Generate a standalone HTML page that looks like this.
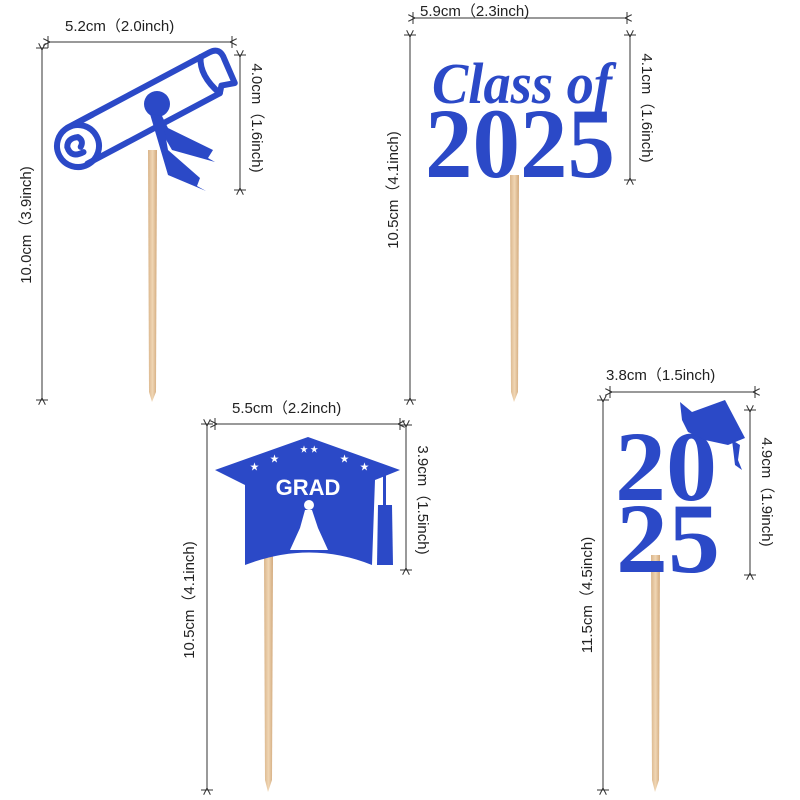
<!DOCTYPE html>
<html><head><meta charset="utf-8"><style>
html,body{margin:0;padding:0;background:#fff;}
svg{display:block;}
text{font-family:"Liberation Sans","Noto Sans CJK SC",sans-serif;font-size:15px;fill:#222;}
.dim{stroke:#333;stroke-width:1;}
.blue{fill:#2b49c7;}
.bs{stroke:#2b49c7;fill:none;stroke-width:6;stroke-linejoin:round;stroke-linecap:round;}
</style></head><body>
<svg width="800" height="800" viewBox="0 0 800 800" xmlns="http://www.w3.org/2000/svg">
<defs>
<linearGradient id="wood" x1="0" x2="1"><stop offset="0" stop-color="#d9b48a"/><stop offset="0.5" stop-color="#f0d6b4"/><stop offset="1" stop-color="#d2a97c"/></linearGradient>
<marker id="a" viewBox="0 0 10 10" refX="0" refY="5" markerWidth="7" markerHeight="7" orient="auto-start-reverse"><path d="M10,0 L0,5 L10,10" fill="none" stroke="#333" stroke-width="1.5"/></marker>
</defs>

<!-- sticks -->
<polygon points="148,150 157,150 156,392 152,402 149,392" fill="url(#wood)"/>
<polygon points="510,175 519,175 518,392 514,402 511,392" fill="url(#wood)"/>
<polygon points="264,555 273,555 272,780 268,792 265,780" fill="url(#wood)"/>
<polygon points="651,555 660,555 659,780 655,792 652,780" fill="url(#wood)"/>

<!-- ===== Topper 1: diploma ===== -->
<g class="dim">
<line x1="50" y1="42" x2="230" y2="42" marker-start="url(#a)" marker-end="url(#a)"/><line x1="48" y1="36" x2="48" y2="48"/><line x1="232" y1="36" x2="232" y2="48"/>
<line x1="42" y1="50" x2="42" y2="398" marker-start="url(#a)" marker-end="url(#a)"/><line x1="36" y1="48" x2="48" y2="48"/><line x1="36" y1="400" x2="48" y2="400"/>
<line x1="240" y1="57" x2="240" y2="188" marker-start="url(#a)" marker-end="url(#a)"/><line x1="234" y1="55" x2="246" y2="55"/><line x1="234" y1="190" x2="246" y2="190"/>
</g>
<text x="65" y="31">5.2cm（2.0inch)</text>
<text transform="translate(31,225) rotate(-90)" text-anchor="middle">10.0cm（3.9inch)</text>
<text transform="translate(252,118) rotate(90)" text-anchor="middle">4.0cm（1.6inch)</text>
<g transform="translate(78,146) rotate(-28)">
<path class="bs" d="M0,-21 L160,-21 Q172,-21 170,-8 L168,18 L155,14 L150,20 L0,20"/>
<path class="bs" d="M150,-21 Q140,-5 150,20"/>
<circle cx="0" cy="0" r="21" class="bs"/>
<path class="bs" stroke-width="5" d="M2,8 Q-12,8 -10,-4 Q-6,-12 4,-8 Q8,-2 2,2"/>
<rect x="-2" y="-24" width="30" height="6" class="blue"/>
</g>
<g>
<circle cx="157" cy="104" r="13" class="blue"/>
<path class="blue" d="M150,112 L160,112 L168,128 L213,150 L208,158 L215,162 L172,150 Z"/>
<path class="blue" d="M150,114 L162,116 L168,150 L200,178 L197,186 L206,191 L168,175 Z"/>
</g>

<!-- ===== Topper 2: Class of 2025 ===== -->
<g class="dim">
<line x1="415" y1="18" x2="625" y2="18" marker-start="url(#a)" marker-end="url(#a)"/><line x1="413" y1="12" x2="413" y2="24"/><line x1="627" y1="12" x2="627" y2="24"/>
<line x1="410" y1="37" x2="410" y2="398" marker-start="url(#a)" marker-end="url(#a)"/><line x1="404" y1="35" x2="416" y2="35"/><line x1="404" y1="400" x2="416" y2="400"/>
<line x1="630" y1="37" x2="630" y2="178" marker-start="url(#a)" marker-end="url(#a)"/><line x1="624" y1="35" x2="636" y2="35"/><line x1="624" y1="180" x2="636" y2="180"/>
</g>
<text x="420" y="16">5.9cm（2.3inch)</text>
<text transform="translate(398,190) rotate(-90)" text-anchor="middle">10.5cm（4.1inch)</text>
<text transform="translate(642,108) rotate(90)" text-anchor="middle">4.1cm（1.6inch)</text>
<text x="522" y="103" text-anchor="middle" style="font-family:'Liberation Serif',serif;font-style:italic;font-weight:bold;font-size:58px;fill:#2b49c7" textLength="180" lengthAdjust="spacingAndGlyphs">Class of</text>
<text x="520" y="177" text-anchor="middle" style="font-family:'Liberation Serif',serif;font-weight:bold;font-size:100px;fill:#2b49c7" textLength="190" lengthAdjust="spacingAndGlyphs">2025</text>

<!-- ===== Topper 3: GRAD cap ===== -->
<g class="dim">
<line x1="217" y1="424" x2="398" y2="424" marker-start="url(#a)" marker-end="url(#a)"/><line x1="215" y1="418" x2="215" y2="430"/><line x1="400" y1="418" x2="400" y2="430"/>
<line x1="207" y1="426" x2="207" y2="788" marker-start="url(#a)" marker-end="url(#a)"/><line x1="201" y1="424" x2="213" y2="424"/><line x1="201" y1="790" x2="213" y2="790"/>
<line x1="406" y1="427" x2="406" y2="568" marker-start="url(#a)" marker-end="url(#a)"/><line x1="400" y1="425" x2="412" y2="425"/><line x1="400" y1="570" x2="412" y2="570"/>
</g>
<text x="232" y="413">5.5cm（2.2inch)</text>
<text transform="translate(194,600) rotate(-90)" text-anchor="middle">10.5cm（4.1inch)</text>
<text transform="translate(418,500) rotate(90)" text-anchor="middle">3.9cm（1.5inch)</text>
<g>
<path class="blue" d="M215,470 L308,437 L400,470 L375,480 L372,565 Q310,540 245,565 L245,485 Z"/>
<text x="308" y="495" text-anchor="middle" style="font-weight:bold;font-size:22px;fill:#fff">GRAD</text>
<path d="M290,550 L300,528 L305,510 L312,510 L318,528 L328,550 Z" fill="#fff"/>
<circle cx="309" cy="505" r="5" fill="#fff"/>
<text x="250" y="470" style="fill:#fff;font-size:9px">★</text><text x="270" y="462" style="fill:#fff;font-size:9px">★</text><text x="340" y="462" style="fill:#fff;font-size:9px">★</text><text x="360" y="470" style="fill:#fff;font-size:9px">★</text><text x="300" y="452" style="fill:#fff;font-size:8px">★ ★</text>
<rect x="383" y="475" width="3" height="30" class="blue"/>
<path class="blue" d="M378,505 L392,505 L393,565 L377,565 Z"/>
</g>

<!-- ===== Topper 4: 20 25 ===== -->
<g class="dim">
<line x1="612" y1="392" x2="753" y2="392" marker-start="url(#a)" marker-end="url(#a)"/><line x1="610" y1="386" x2="610" y2="398"/><line x1="755" y1="386" x2="755" y2="398"/>
<line x1="603" y1="402" x2="603" y2="788" marker-start="url(#a)" marker-end="url(#a)"/><line x1="597" y1="400" x2="609" y2="400"/><line x1="597" y1="790" x2="609" y2="790"/>
<line x1="750" y1="412" x2="750" y2="573" marker-start="url(#a)" marker-end="url(#a)"/><line x1="744" y1="410" x2="756" y2="410"/><line x1="744" y1="575" x2="756" y2="575"/>
</g>
<text x="606" y="380">3.8cm（1.5inch)</text>
<text transform="translate(592,595) rotate(-90)" text-anchor="middle">11.5cm（4.5inch)</text>
<text transform="translate(762,492) rotate(90)" text-anchor="middle">4.9cm（1.9inch)</text>
<text x="666" y="500" text-anchor="middle" style="font-family:'Liberation Serif',serif;font-weight:bold;font-size:100px;fill:#2b49c7" textLength="102" lengthAdjust="spacingAndGlyphs">20</text>
<text x="668" y="572" text-anchor="middle" style="font-family:'Liberation Serif',serif;font-weight:bold;font-size:100px;fill:#2b49c7" textLength="104" lengthAdjust="spacingAndGlyphs">25</text>
<path class="blue" d="M680,402 L692,412 L725,400 L745,438 L728,445 L705,440 L688,432 L682,420 Z"/>
<path class="blue" d="M732,440 L740,445 L738,460 L742,470 L735,465 Z"/>
</g>
</svg>
</body></html>
